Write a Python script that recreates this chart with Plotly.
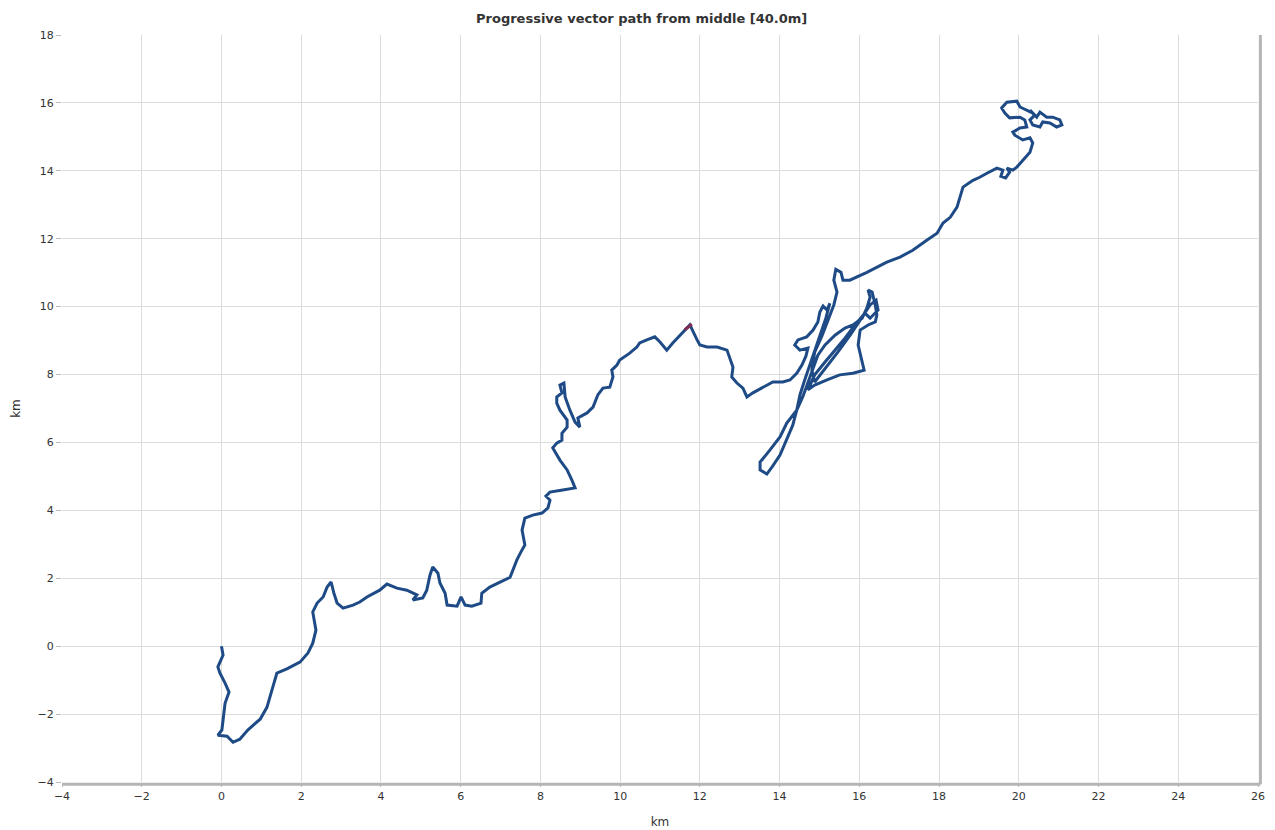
import plotly.graph_objects as go

# progressive vector path, km east / km north of the mooring
east_km = [
    0.00, 0.04, -0.09, -0.04, 0.09, 0.19, 0.09, 0.04, 0.01, -0.09, 0.14, 0.29, 0.46, 0.66, 0.97,
    1.14, 1.27, 1.39, 1.64, 1.97, 2.17, 2.29, 2.37, 2.29, 2.40, 2.55, 2.65, 2.75, 2.82, 2.90,
    3.05, 3.30, 3.47, 3.65, 3.97, 4.15, 4.40, 4.65, 4.90, 4.80, 5.05, 5.15, 5.23, 5.30, 5.43,
    5.48, 5.61, 5.66, 5.91, 6.01, 6.11, 6.28, 6.51, 6.53, 6.73, 6.98, 7.24, 7.31, 7.41, 7.51,
    7.61, 7.54, 7.61, 7.81, 8.04, 8.19, 8.24, 8.14, 8.24, 8.56, 8.87, 8.79, 8.67, 8.49, 8.31,
    8.41, 8.54, 8.54, 8.67, 8.67, 8.49, 8.41, 8.41, 8.54, 8.49, 8.59, 8.62, 8.74, 8.87, 8.99,
    8.94, 9.17, 9.32, 9.44, 9.57, 9.74, 9.82, 9.79, 9.92, 9.99, 10.24, 10.42, 10.49, 10.67, 10.87,
    11.00, 11.17, 11.32, 11.57, 11.75, 11.93, 12.00, 12.18, 12.43, 12.68, 12.75, 12.83, 12.80, 12.93, 13.08,
    13.18, 13.33, 13.58, 13.83, 14.08, 14.26, 14.43, 14.56, 14.66, 14.71, 14.51, 14.38, 14.46, 14.68, 14.84,
    14.96, 15.01, 15.09, 15.19, 15.26, 15.16, 15.01, 14.88, 14.76, 14.63, 14.51, 14.43, 14.33, 14.18, 14.01,
    13.83, 13.68, 13.51, 13.51, 13.76, 14.01, 14.18, 14.43, 14.58, 14.71, 14.81, 14.96, 15.14, 15.39, 15.64,
    15.84, 16.07, 16.19, 16.27, 16.22, 16.32, 16.40, 16.44, 16.40, 16.22, 16.02, 15.97, 16.07, 16.12, 15.84,
    15.51, 15.19, 14.88, 14.71, 14.88, 15.14, 15.39, 15.64, 15.89, 16.14, 16.27, 16.47, 16.42, 16.27, 16.02,
    15.77, 15.46, 15.16, 14.88, 14.81, 14.88, 15.06, 15.21, 15.36, 15.44, 15.36, 15.41, 15.54, 15.59, 15.76,
    16.19, 16.69, 17.02, 17.34, 17.70, 17.95, 18.10, 18.28, 18.45, 18.53, 18.60, 18.85, 19.02, 19.20, 19.45,
    19.60, 19.55, 19.67, 19.77, 19.70, 19.85, 19.95, 20.10, 20.28, 20.35, 20.28, 20.10, 19.90, 19.85, 20.03,
    20.20, 20.15, 20.03, 19.77, 19.65, 19.57, 19.70, 19.95, 20.03, 20.20, 20.35, 20.45, 20.53, 20.70, 20.85,
    21.03, 21.08, 20.95, 20.78, 20.60, 20.53, 20.35, 20.28, 20.40, 20.28,
]
north_km = [
    0.00, -0.26, -0.61, -0.79, -1.09, -1.35, -1.68, -2.18, -2.47, -2.62, -2.65, -2.83, -2.74, -2.47, -2.15,
    -1.80, -1.29, -0.79, -0.67, -0.47, -0.20, 0.09, 0.47, 1.01, 1.27, 1.45, 1.74, 1.89, 1.56, 1.27,
    1.12, 1.21, 1.30, 1.45, 1.65, 1.83, 1.71, 1.65, 1.51, 1.36, 1.42, 1.65, 2.09, 2.33, 2.15,
    1.86, 1.56, 1.21, 1.18, 1.45, 1.21, 1.18, 1.27, 1.56, 1.74, 1.89, 2.03, 2.24, 2.54, 2.77,
    2.98, 3.42, 3.77, 3.86, 3.92, 4.07, 4.30, 4.42, 4.54, 4.60, 4.66, 4.89, 5.19, 5.48, 5.84,
    5.98, 6.07, 6.27, 6.45, 6.66, 6.95, 7.16, 7.34, 7.46, 7.69, 7.75, 7.34, 6.95, 6.60, 6.45,
    6.72, 6.87, 7.04, 7.40, 7.60, 7.63, 7.93, 8.13, 8.28, 8.43, 8.63, 8.81, 8.93, 9.02, 9.11,
    8.96, 8.72, 8.93, 9.25, 9.46, 9.02, 8.87, 8.81, 8.81, 8.72, 8.49, 8.22, 7.93, 7.75, 7.60,
    7.34, 7.46, 7.63, 7.78, 7.78, 7.84, 8.04, 8.28, 8.54, 8.78, 8.72, 8.87, 9.02, 9.11, 9.31,
    9.55, 9.84, 10.02, 9.90, 10.10, 9.66, 9.16, 8.72, 8.28, 7.84, 7.40, 6.95, 6.51, 6.07, 5.63,
    5.31, 5.07, 5.19, 5.42, 5.78, 6.16, 6.57, 6.95, 7.34, 7.78, 8.13, 8.57, 8.87, 9.16, 9.37,
    9.46, 9.66, 9.96, 10.28, 10.49, 10.43, 10.05, 9.75, 9.55, 9.46, 9.31, 8.87, 8.43, 8.13, 8.04,
    7.99, 7.84, 7.69, 7.55, 7.99, 8.37, 8.72, 9.07, 9.46, 9.81, 9.66, 9.90, 10.19, 10.05, 9.60,
    9.16, 8.66, 8.19, 7.78, 8.13, 8.66, 9.13, 9.60, 10.05, 10.43, 10.78, 11.10, 11.01, 10.78, 10.78,
    11.01, 11.31, 11.46, 11.66, 11.96, 12.16, 12.46, 12.63, 12.93, 13.22, 13.52, 13.72, 13.81, 13.93, 14.08,
    14.02, 13.84, 13.79, 13.96, 14.08, 14.02, 14.11, 14.32, 14.55, 14.82, 14.97, 14.91, 15.05, 15.14, 15.26,
    15.29, 15.50, 15.58, 15.56, 15.70, 15.85, 16.02, 16.05, 15.88, 15.79, 15.70, 15.58, 15.73, 15.58, 15.58,
    15.50, 15.35, 15.29, 15.41, 15.44, 15.29, 15.35, 15.50, 15.64, 15.79,
]

# small highlighted marker on the path
mark_east = [11.62, 11.80]
mark_north = [9.32, 9.48]

x_ticks = list(range(-4, 27, 2))
y_ticks = list(range(-4, 19, 2))

font = "DejaVu Sans, Verdana, sans-serif"

fig = go.Figure()
fig.add_trace(go.Scatter(
    x=east_km, y=north_km, mode="lines",
    line=dict(color="#1e4b86", width=3),
    showlegend=False, hoverinfo="x+y",
))
fig.add_trace(go.Scatter(
    x=mark_east, y=mark_north, mode="lines",
    line=dict(color="#7d2f55", width=3),
    showlegend=False,
))

fig.update_layout(
    width=1275, height=830,
    margin=dict(l=54, r=25, t=27, b=56),
    paper_bgcolor="white", plot_bgcolor="white",
    font=dict(family=font, size=11, color="#333"),
    title=dict(
        text="<b>Progressive vector path from middle [40.0m]</b>",
        x=0.497, xref="container", xanchor="center",
        y=0.988, yref="container", yanchor="middle",
        font=dict(size=13, color="#333", family=font),
    ),
    # shadowed frame on the right and bottom of the plot area
    shapes=[
        dict(type="line", xref="paper", yref="paper", x0=1.002, x1=1.002, y0=-0.003, y1=1,
             line=dict(color="#b5b5b5", width=3)),
        dict(type="line", xref="paper", yref="paper", x0=0, x1=1.002, y0=-0.003, y1=-0.003,
             line=dict(color="#b5b5b5", width=3)),
    ],
)
fig.update_xaxes(
    range=[-4, 26], tickvals=x_ticks, ticks="outside", ticklen=4, tickcolor="#bbb",
    showgrid=True, gridcolor="#dcdcdc", gridwidth=1, zeroline=False, showline=False,
    automargin=False,
    title=dict(text="km", font=dict(size=12, color="#333"), standoff=15),
)
fig.update_yaxes(
    range=[-4, 18], tickvals=y_ticks, ticks="outside", ticklen=5, tickcolor="#bbb",
    showgrid=True, gridcolor="#dcdcdc", gridwidth=1, zeroline=False, showline=False,
    automargin=False,
    title=dict(text="km", font=dict(size=12, color="#333"), standoff=14),
)

fig.write_html("out.html")
